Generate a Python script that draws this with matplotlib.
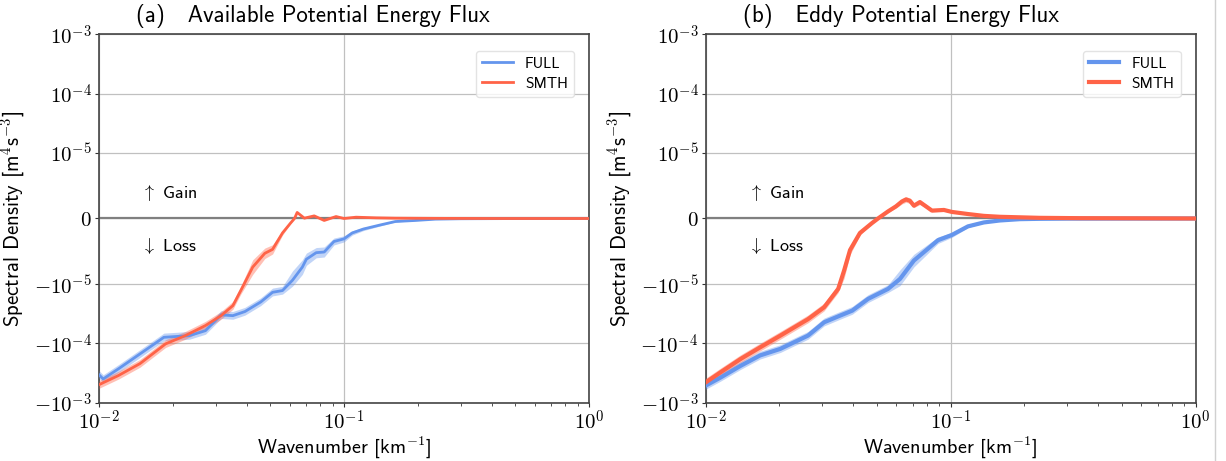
import numpy as np
import matplotlib
matplotlib.use("Agg")
import matplotlib.pyplot as plt
from matplotlib.lines import Line2D

plt.rcParams['font.family'] = ['cmss10', 'DejaVu Sans']
plt.rcParams['mathtext.fontset'] = 'cm'
plt.rcParams['axes.unicode_minus'] = True

# (a) Available Potential Energy Flux
k_a_full = [0.0100, 0.0104, 0.0120, 0.0144, 0.0184, 0.0234, 0.0272, 0.0315, 0.0352, 0.0394,
            0.0457, 0.0511, 0.0561, 0.0616, 0.0676, 0.0702, 0.0770, 0.0830, 0.0910, 0.1000,
            0.108, 0.120, 0.140, 0.162, 0.195, 0.236, 0.30, 0.50, 1.0]
a_full = [-3.4e-4, -4.0e-4, -2.7e-4, -1.6e-4, -7.9e-5, -7.4e-5, -6.1e-5, -3.3e-5, -3.4e-5, -2.9e-5,
          -2.0e-5, -1.37e-5, -1.28e-5, -9.4e-6, -7.4e-6, -6.2e-6, -5.2e-6, -5.1e-6, -3.5e-6, -3.1e-6,
          -2.2e-6, -1.6e-6, -1.0e-6, -4.6e-7, -3e-7, -1e-7, -4e-8, -1e-8, 0.0]

k_a_smth = [0.0100, 0.0120, 0.0147, 0.0187, 0.0225, 0.0272, 0.0315, 0.0352, 0.0379, 0.0424,
            0.0475, 0.0511, 0.0561, 0.0605, 0.0628, 0.0644, 0.0689, 0.0756, 0.0830, 0.0928,
            0.100, 0.112, 0.135, 0.162, 0.236, 0.40, 1.0]
a_smth = [-5.0e-4, -3.5e-4, -2.2e-4, -1.02e-4, -7.4e-5, -5.0e-5, -3.4e-5, -2.3e-5, -1.28e-5, -7.4e-6,
          -5.3e-6, -4.7e-6, -2.2e-6, -7e-7, 0.0, 9.2e-7, 5e-8, 4e-7, -3e-7, 3e-7,
          0.0, 2e-7, 1e-7, 5e-8, 2e-8, 0.0, 0.0]

# (b) Eddy Potential Energy Flux
k_b_full = [0.0100, 0.0115, 0.0139, 0.0167, 0.0202, 0.0262, 0.0305, 0.0354, 0.0397, 0.0461,
            0.0556, 0.0622, 0.0709, 0.0809, 0.0889, 0.1013, 0.1178, 0.1368, 0.159, 0.192,
            0.231, 0.30, 0.50, 1.0]
b_full = [-5.2e-4, -3.8e-4, -2.4e-4, -1.6e-4, -1.24e-4, -7.4e-5, -4.4e-5, -3.4e-5, -2.8e-5, -1.77e-5,
          -1.2e-5, -9.2e-6, -6.4e-6, -4.6e-6, -3.3e-6, -2.5e-6, -1.2e-6, -6e-7, -3e-7, -1e-7,
          -5e-8, -2e-8, -1e-8, 0.0]

k_b_smth = [0.0100, 0.0115, 0.0139, 0.0167, 0.0202, 0.0262, 0.0305, 0.0348, 0.0368, 0.0389,
            0.0427, 0.0478, 0.0506, 0.0556, 0.0599, 0.0634, 0.0658, 0.0683, 0.0709, 0.0750,
            0.0794, 0.0840, 0.0940, 0.1013, 0.1178, 0.1368, 0.159, 0.231, 0.337, 1.0]
b_smth = [-4.6e-4, -3.1e-4, -1.84e-4, -1.17e-4, -7.4e-5, -3.9e-5, -2.45e-5, -1.2e-5, -7.9e-6, -4.8e-6,
          -2.2e-6, -7e-7, 0.0, 1.08e-6, 1.85e-6, 2.6e-6, 2.9e-6, 2.7e-6, 1.95e-6, 2.5e-6,
          1.85e-6, 1.2e-6, 1.3e-6, 1.0e-6, 6.8e-7, 4e-7, 2.6e-7, 1e-7, 5e-8, 0.0]

titles = ["(a)   Available Potential Energy Flux", "(b)   Eddy Potential Energy Flux"]
xticks = [0.01, 0.1, 1.0]
xtick_labels = [r'$10^{-2}$', r'$10^{-1}$', r'$10^{0}$']
yticks = [-1e-3, -1e-4, -1e-5, 0, 1e-5, 1e-4, 1e-3]
ytick_labels = [r'$-10^{-3}$', r'$-10^{-4}$', r'$-10^{-5}$', r'$0$', r'$10^{-5}$', r'$10^{-4}$', r'$10^{-3}$']

blue = '#6495ED'
red = '#FF6347'
band = 0.15

W, H = 1226, 461
fig = plt.figure(figsize=(W / 100, H / 100), dpi=100)
ax1 = fig.add_axes([99 / W, 1 - 402.5 / H, 490 / W, 368 / H])
ax2 = fig.add_axes([705.5 / W, 1 - 402.5 / H, 490 / W, 368 / H])

panels = [(ax1, k_a_full, a_full, k_a_smth, a_smth, 2.0),
          (ax2, k_b_full, b_full, k_b_smth, b_smth, 3.0)]

for i, (ax, kf, vf, ks, vs, lw) in enumerate(panels):
    ax.set_xscale('log')
    ax.set_yscale('symlog', linthresh=1e-5, linscale=1)
    kf = np.array(kf); vf = np.array(vf)
    ks = np.array(ks); vs = np.array(vs)
    ax.fill_between(kf, vf * (1 - band), vf * (1 + band), color=blue, alpha=0.4, lw=0, zorder=3)
    ax.fill_between(ks, vs * (1 - band), vs * (1 + band), color=red, alpha=0.4, lw=0, zorder=3)
    ax.plot(kf, vf, color=blue, lw=lw, label='FULL', zorder=4)
    ax.plot(ks, vs, color=red, lw=lw, label='SMTH', zorder=4)
    ax.axhline(0, color='grey', lw=1.6, zorder=2)
    ax.set_xlim(1e-2, 1)
    ax.set_ylim(-1e-3, 1e-3)
    ax.set_xticks(xticks)
    ax.set_xticklabels(xtick_labels)
    ax.set_yticks(yticks)
    ax.set_yticklabels(ytick_labels)
    ax.yaxis.set_minor_locator(matplotlib.ticker.NullLocator())
    ax.grid(True, which='major', color='#c0c0c0', lw=0.9, zorder=1)
    ax.tick_params(axis='both', which='major', labelsize=15, length=3, pad=2, color='#333333')
    ax.tick_params(axis='x', which='minor', length=2, color='#333333')
    for s in ax.spines.values():
        s.set_color('#444444')
        s.set_linewidth(1.2)
    ax.set_xlabel(r'Wavenumber [km$^{-1}$]', fontsize=14.5, labelpad=0)
    ax.set_ylabel(r'Spectral Density [$\mathsf{m^4s^{-3}}$]', fontsize=15, labelpad=4)
    ax.text(0.076, 1.033, titles[i], transform=ax.transAxes, fontsize=16.5,
            ha='left', va='baseline')
    ax.text(0.086, 0.569, r'$\uparrow$ Gain', transform=ax.transAxes, fontsize=13, va='center')
    ax.text(0.086, 0.426, r'$\downarrow$ Loss', transform=ax.transAxes, fontsize=13, va='center')
    leg = ax.legend(loc='upper right', fontsize=11, frameon=True, fancybox=True,
                    handlelength=2.0, borderpad=0.4, labelspacing=0.4,
                    bbox_to_anchor=(0.985, 0.977))
    leg.get_frame().set_edgecolor('#dddddd')
    leg.get_frame().set_linewidth(1.0)

# thin page border on the right side
fig.add_artist(Line2D([1215 / W, 1215 / W], [0, 1], transform=fig.transFigure,
                      color='#d0d0d0', lw=1))

fig.savefig('out.png', dpi=100)
